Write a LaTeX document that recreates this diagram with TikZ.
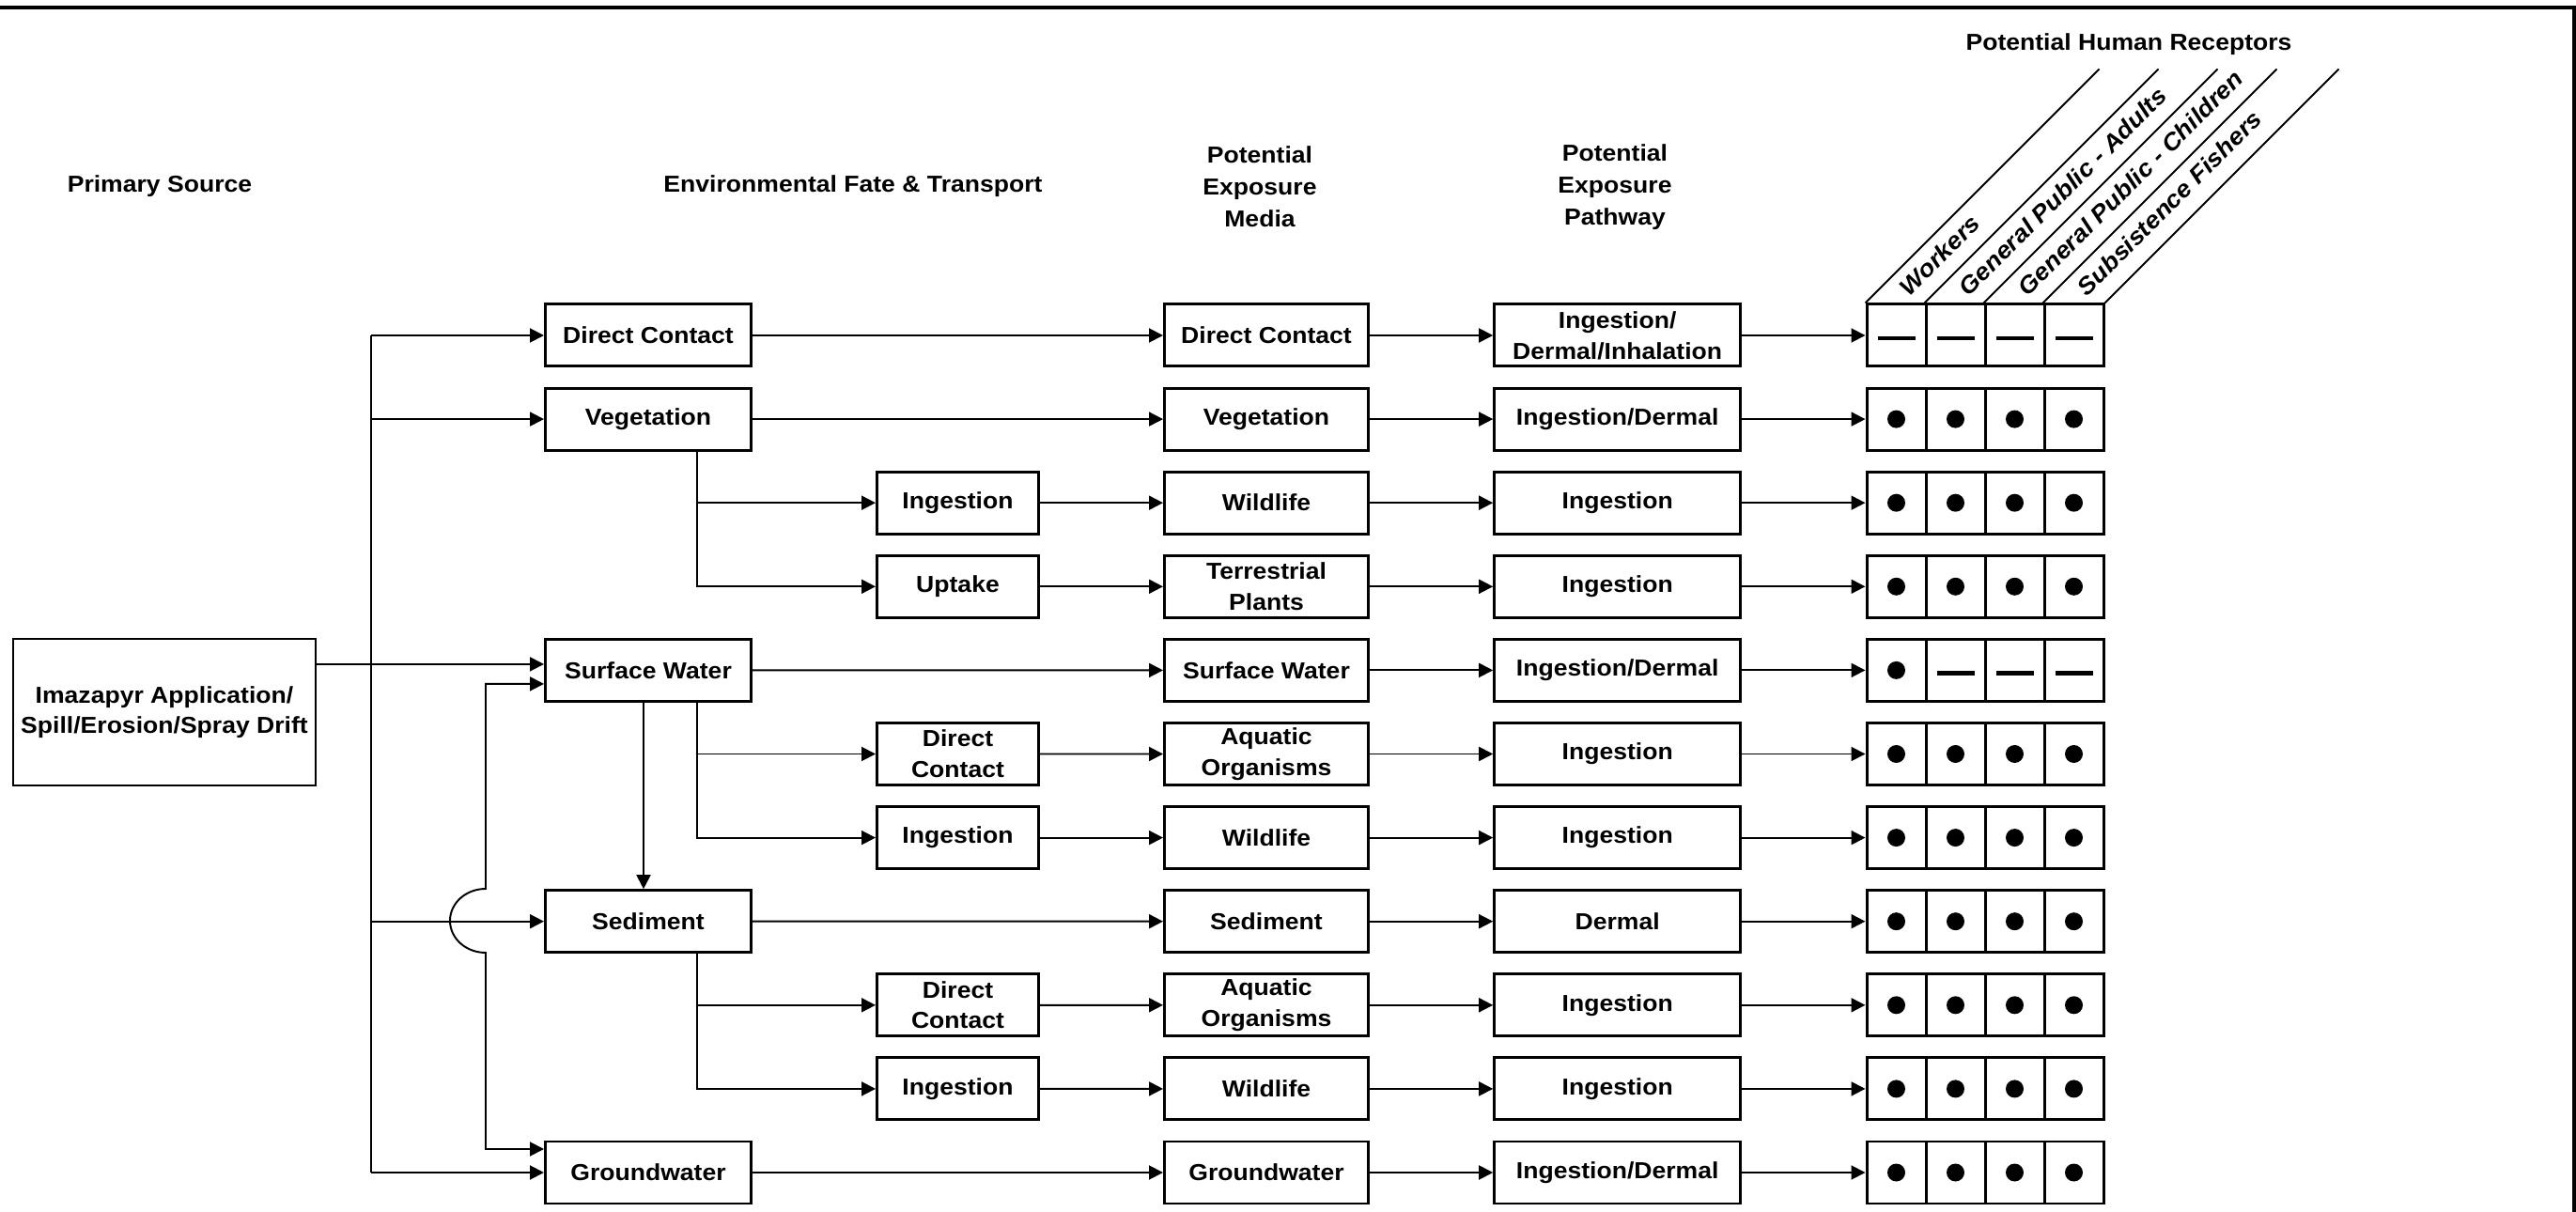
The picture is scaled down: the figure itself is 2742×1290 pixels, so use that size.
\documentclass[tikz,border=0pt]{standalone}
\usepackage{fontspec}
\setmainfont{Liberation Sans}[FakeStretch=1.08]
\usepackage{tikz}
\usetikzlibrary{calc}
\usetikzlibrary{arrows.meta}

\begin{document}
\begin{tikzpicture}[x=0.1mm,y=-0.1mm,
        font=\fontsize{7}{9.3}\selectfont\bfseries,
        box/.style={draw,line width=0.85pt,inner sep=0pt,align=center,minimum height=6.6mm},
        box1/.style={box,minimum width=21.9mm},
        box2/.style={box,minimum width=17.2mm},
        box3/.style={box,minimum width=21.7mm},
        box4/.style={box,minimum width=26.2mm},
        cell/.style={draw,line width=0.85pt,inner sep=0pt,minimum width=6.3mm,minimum height=6.6mm},
        arr/.style={line width=0.55pt,-{Triangle[length=1.5mm,width=1.5mm]}},
        hdr/.style={align=center,font=\fontsize{7}{9.7}\selectfont\bfseries}]
        %BINGKAI
        \useasboundingbox (0,0) rectangle (2742,1290);
        \draw[line width=1pt] (0,8) -- (2740,8) -- (2740,1290);
        %JUDUL
        \node[hdr] (hsrc) at (170,198) {Primary Source};
        \node[hdr] (hfate) at (908,198) {Environmental Fate \& Transport};
        \node[hdr] (hmed) at (1341,199) {Potential\\Exposure\\Media};
        \node[hdr] (hpath) at (1719,199) {Potential\\Exposure\\Pathway};
        \node[hdr] (hrec) at (2266,47) {Potential Human Receptors};
        %SUMBER
        \node[box,minimum width=32.2mm,minimum height=15.6mm] (src) at (175,758) {Imazapyr Application/\\Spill/Erosion/Spray Drift};
        %KOLOM 1
        \node[box1] (dc) at (690,357) {Direct Contact};
        \node[box1] (veg) at (690,446.1) {Vegetation};
        \node[box1] (sw) at (690,713.4) {Surface Water};
        \node[box1] (sed) at (690,980.7) {Sediment};
        \node[box1] (gw) at (690,1248) {Groundwater};
        %KOLOM 2
        \node[box2] (ing1) at (1019.5,535.2) {Ingestion};
        \node[box2] (upt) at (1019.5,624.3) {Uptake};
        \node[box2] (dc2) at (1019.5,802.5) {Direct\\Contact};
        \node[box2] (ing2) at (1019.5,891.6) {Ingestion};
        \node[box2] (dc3) at (1019.5,1069.8) {Direct\\Contact};
        \node[box2] (ing3) at (1019.5,1158.9) {Ingestion};
        %MEDIA, JALUR, RESEPTOR
        \foreach \r/\med/\pth in {1/Direct Contact/{Ingestion/\\Dermal/Inhalation},
                2/Vegetation/{Ingestion/Dermal}, 3/Wildlife/Ingestion,
                4/{Terrestrial\\Plants}/Ingestion, 5/Surface Water/{Ingestion/Dermal},
                6/{Aquatic\\Organisms}/Ingestion, 7/Wildlife/Ingestion, 8/Sediment/Dermal,
                9/{Aquatic\\Organisms}/Ingestion, 10/Wildlife/Ingestion,
                11/Groundwater/{Ingestion/Dermal}}{
            \pgfmathsetmacro\yy{357+89.1*(\r-1)}
            \node[box3] (m\r) at (1348,\yy) {\med};
            \node[box4] (p\r) at (1721.7,\yy) {\pth};
            \foreach \k in {1,...,4}
                \node[cell] (c\r-\k) at ({2018.5+63*(\k-1)},\yy) {};
            \draw[arr] (m\r) -- (p\r);
            \draw[arr] (p\r) -- (c\r-1);
        }
        %TANDA
        \foreach \r in {2,3,4,6,7,8,9,10,11}
            \foreach \k in {1,...,4}
                \fill (c\r-\k) circle (0.95mm);
        \fill (c5-1) circle (0.95mm);
        \foreach \k in {1,...,4}
            \draw[line width=1.3pt] ([xshift=-2mm,yshift=-0.3mm]c1-\k.center) -- ([xshift=2mm,yshift=-0.3mm]c1-\k.center);
        \foreach \k in {2,3,4}
            \draw[line width=1.3pt] ([xshift=-2mm,yshift=-0.3mm]c5-\k.center) -- ([xshift=2mm,yshift=-0.3mm]c5-\k.center);
        %GARIS MIRING
        \foreach \k in {1,...,4}
            \draw[line width=0.55pt] (c1-\k.north west) -- ++(249,-249);
        \draw[line width=0.55pt] (c1-4.north east) -- ++(249,-249);
        \foreach \k/\t in {1/Workers,2/General Public - Adults,3/General Public - Children,4/Subsistence Fishers}
            \node[rotate=45,anchor=base west,inner sep=0pt,font=\fontsize{7.2}{9}\selectfont\bfseries\itshape] (rc\k) at ({2032+63*(\k-1)},317) {\t};
        %BATANG
        \coordinate (t1) at (395,357);
        \coordinate (t2) at (395,1248);
        \draw[line width=0.55pt] (t1) -- (t2);
        \draw[arr] (t1) -- (dc);
        \draw[arr] (t1 |- veg) -- (veg);
        \draw[arr] (t1 |- sed) -- (sed);
        \draw[arr] (t2) -- (gw);
        \coordinate (swin) at ($(sw.west)+(0,-6.5)$);
        \draw[arr] (src.east |- swin) -- (swin);
        %LOMPATAN
        \coordinate (swlo) at ($(sw.west)+(0,14.5)$);
        \coordinate (gwhi) at ($(gw.west)+(0,-25)$);
        \draw[line width=0.55pt,{Triangle[length=1.5mm,width=1.5mm]}-{Triangle[length=1.5mm,width=1.5mm]}] (swlo) -| (517,946) arc[start angle=90,end angle=270,x radius=3.8mm,y radius=3.4mm] |- (gwhi);
        \draw[arr] ([xshift=-0.5mm]sw.south) -- ([xshift=-0.5mm]sed.north);
        %CABANG
        \coordinate (vegb) at ([xshift=5.2mm]veg.south);
        \draw[arr] (vegb) |- (upt);
        \draw[arr] (vegb |- ing1) -- (ing1);
        \coordinate (swb) at ([xshift=5.2mm]sw.south);
        \draw[arr] (swb) |- (ing2);
        \draw[arr] (swb |- dc2) -- (dc2);
        \coordinate (sedb) at ([xshift=5.2mm]sed.south);
        \draw[arr] (sedb) |- (ing3);
        \draw[arr] (sedb |- dc3) -- (dc3);
        %PANAH KE MEDIA
        \draw[arr] (dc) -- (m1);
        \draw[arr] (veg) -- (m2);
        \draw[arr] (sw) -- (m5);
        \draw[arr] (sed) -- (m8);
        \draw[arr] (gw) -- (m11);
        \draw[arr] (ing1) -- (m3);
        \draw[arr] (upt) -- (m4);
        \draw[arr] (dc2) -- (m6);
        \draw[arr] (ing2) -- (m7);
        \draw[arr] (dc3) -- (m9);
        \draw[arr] (ing3) -- (m10);
    \end{tikzpicture}
\end{document}
